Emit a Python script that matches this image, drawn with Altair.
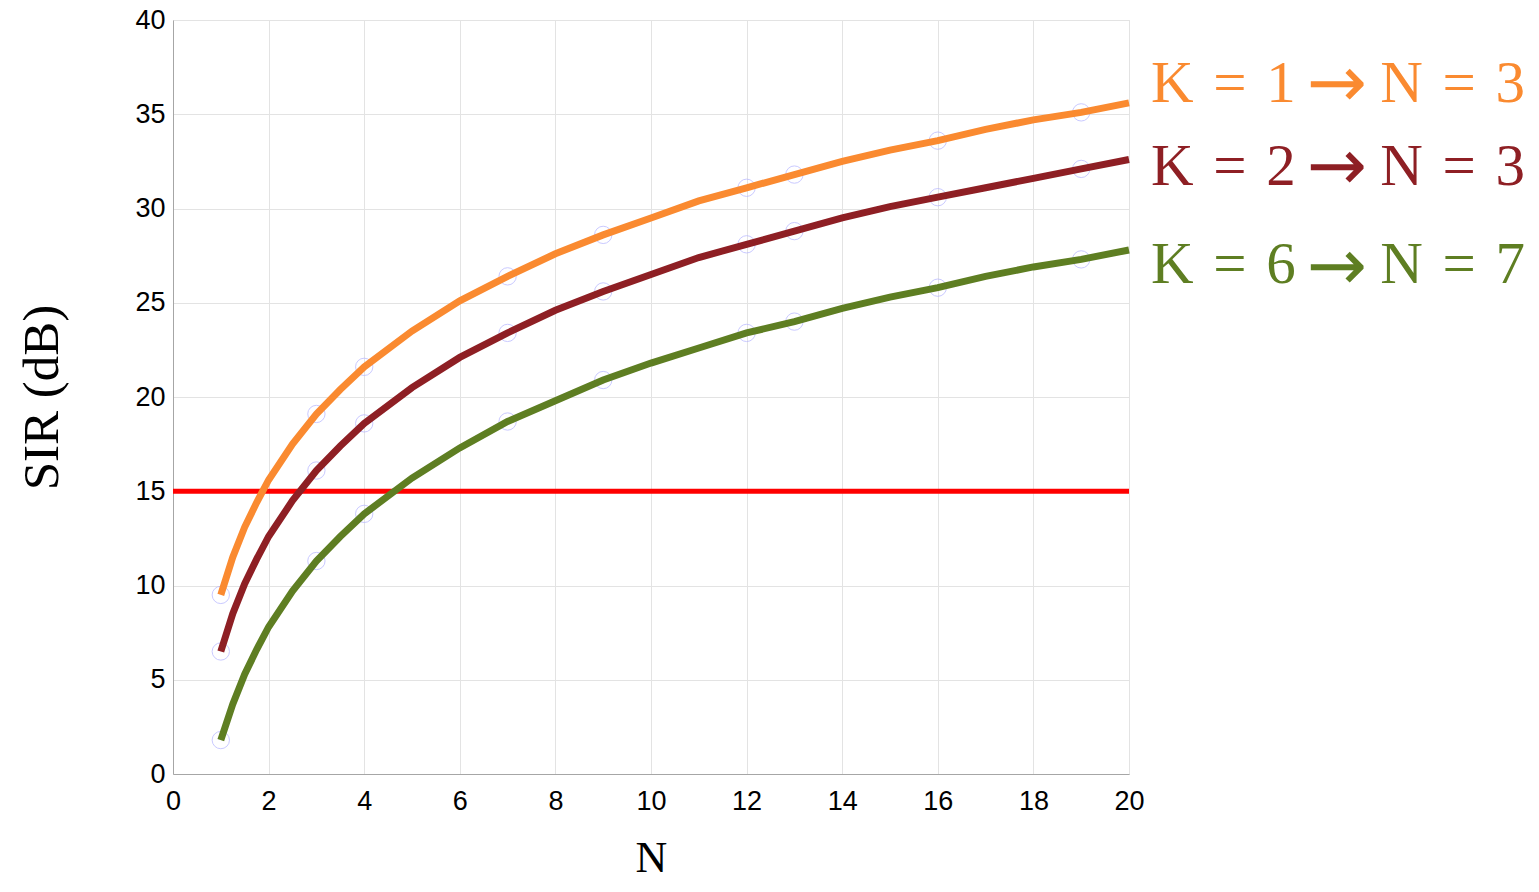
import altair as alt
import pandas as pd

# Data
n_vals = [1, 1.25, 1.5, 1.75, 2, 2.5, 3, 3.5, 4, 5, 6, 7, 8, 9, 10,
          11, 12, 13, 14, 15, 16, 17, 18, 19, 20]
sir_k1 = [9.5, 11.5, 13.1, 14.4, 15.6, 17.5, 19.1, 20.4, 21.6, 23.5, 25.1, 26.4, 27.6, 28.6, 29.5,
          30.4, 31.1, 31.8, 32.5, 33.1, 33.6, 34.2, 34.7, 35.1, 35.6]
sir_k2 = [6.5, 8.5, 10.1, 11.4, 12.6, 14.5, 16.1, 17.4, 18.6, 20.5, 22.1, 23.4, 24.6, 25.6, 26.5,
          27.4, 28.1, 28.8, 29.5, 30.1, 30.6, 31.1, 31.6, 32.1, 32.6]
sir_k6 = [1.8, 3.7, 5.3, 6.6, 7.8, 9.7, 11.3, 12.6, 13.8, 15.7, 17.3, 18.7, 19.8, 20.9, 21.8,
          22.6, 23.4, 24.0, 24.7, 25.3, 25.8, 26.4, 26.9, 27.3, 27.8]
marker_n = [1, 3, 4, 7, 9, 12, 13, 16, 19]
threshold = 15
series_names = ["K=1", "K=2", "K=6"]
series_colors = ["#FA8A30", "#8E1F24", "#5E7E22"]
sp = "\u2004"
labels_left = [f"K{sp}={sp}1", f"K{sp}={sp}2", f"K{sp}={sp}6"]
labels_right = [f"N{sp}={sp}3", f"N{sp}={sp}3", f"N{sp}={sp}7"]
arrow = "\u2192"

rows = []
for name, vals in zip(series_names, [sir_k1, sir_k2, sir_k6]):
    for n, v in zip(n_vals, vals):
        rows.append({"N": n, "SIR": v, "series": name})
df = pd.DataFrame(rows)
markers = df[df["N"].isin(marker_n)]
thr = pd.DataFrame({"x": [0], "x2": [20], "y": [threshold]})
lab = pd.DataFrame({"left": labels_left, "right": labels_right, "arrow": [arrow] * 3,
                    "series": series_names, "ypix": [82, 165, 263], "ymid": [65, 148, 248]})

W, H = 956, 754
xscale = alt.Scale(domain=[0, 20], nice=False)
yscale = alt.Scale(domain=[0, 40], nice=False)
color = alt.Color("series:N", scale=alt.Scale(domain=series_names, range=series_colors), legend=None)

xaxis = alt.Axis(values=list(range(0, 21, 2)), title="N", titleFont="Liberation Serif",
                 titleFontSize=44, titleFontWeight="normal", titleColor="black",
                 titleY=84, titleBaseline="middle",
                 labelFont="Liberation Sans", labelFontSize=27, labelColor="black",
                 labelPadding=14, ticks=False, tickSize=0, domainColor="#a6a6a6",
                 gridColor="#e3e3e3", labelFlush=False)
yaxis = alt.Axis(values=list(range(0, 41, 5)), title="SIR (dB)", titleFont="Liberation Serif",
                 titleFontSize=51, titleFontWeight="normal", titleColor="black",
                 titleX=-131, titleY=H / 2, titleAngle=-90, titleAlign="center", titleBaseline="middle",
                 labelFont="Liberation Sans", labelFontSize=27, labelColor="black",
                 labelPadding=8, ticks=False, tickSize=0, domainColor="#a6a6a6",
                 gridColor="#e3e3e3", labelFlush=False)

base_x = alt.X("N:Q", scale=xscale, axis=xaxis)
base_y = alt.Y("SIR:Q", scale=yscale, axis=yaxis)

circles = alt.Chart(markers).mark_point(shape="circle", filled=False, size=300,
                                        stroke="#b4b4ff", strokeWidth=1).encode(x=base_x, y=base_y)
lines = alt.Chart(df).mark_line(strokeWidth=7).encode(x=base_x, y=base_y, color=color, detail="series:N")
rule = alt.Chart(thr).mark_rule(color="#ff0000", strokeWidth=5).encode(
    x=alt.X("x:Q", scale=xscale), x2="x2:Q", y=alt.Y("y:Q", scale=yscale))
text_left = alt.Chart(lab).mark_text(font="Liberation Serif", fontSize=59, align="left",
                                     baseline="alphabetic").encode(
    x=alt.value(978), y=alt.Y("ypix:Q", scale=None), text="left:N", color=color)
text_right = alt.Chart(lab).mark_text(font="Liberation Serif", fontSize=59, align="right",
                                      baseline="alphabetic").encode(
    x=alt.value(1352), y=alt.Y("ypix:Q", scale=None), text="right:N", color=color)
text_arrow = alt.Chart(lab).mark_text(font="DejaVu Sans", fontSize=72, align="center",
                                      baseline="middle").encode(
    x=alt.value(1164), y=alt.Y("ymid:Q", scale=None), text="arrow:N", color=color)

chart = alt.layer(circles, rule, lines, text_left, text_arrow, text_right).properties(
    width=W, height=H,
    autosize=alt.AutoSizeParams(type="none"),
    padding={"left": 165, "top": 12, "right": 400, "bottom": 104},
).configure_view(stroke="#e3e3e3").configure_axis(grid=True)

chart.save("out.html", embed_options={"renderer": "svg", "actions": False})
